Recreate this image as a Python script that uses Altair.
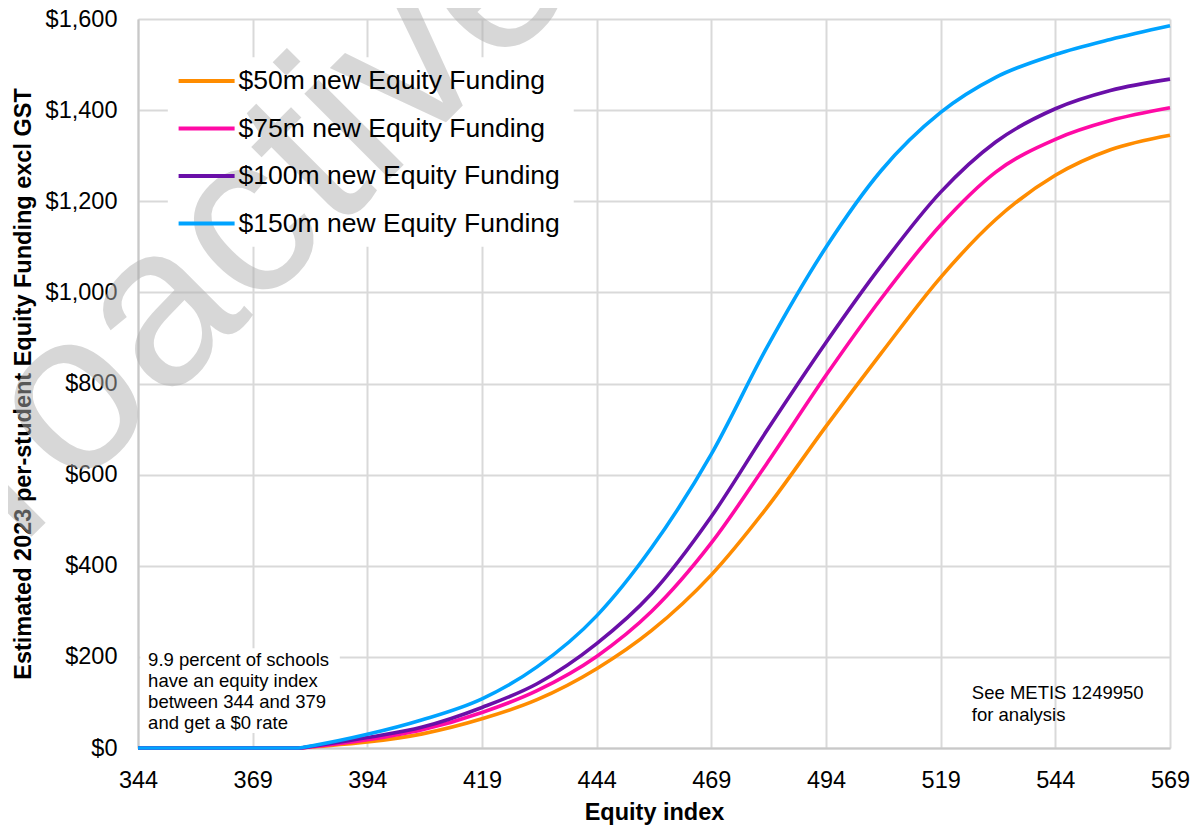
import altair as alt
import pandas as pd

# ---- data ----
equity_index = [344, 369, 379, 382, 394, 406, 419, 431, 444, 456, 469,
                481, 494, 506, 519, 531, 544, 556, 569]
funding_50m = [0, 0, 0, 2.5, 13, 31, 64, 106, 174, 258, 380,
               526, 706, 866, 1033, 1160, 1257, 1313, 1345]
funding_75m = [0, 0, 0, 3, 18, 40, 78, 126, 201, 300, 450,
               623, 818, 986, 1148, 1264, 1336, 1377, 1405]
funding_100m = [0, 0, 0, 4, 23, 46, 89, 141, 229, 339, 508,
                695, 890, 1058, 1220, 1330, 1403, 1443, 1468]
funding_150m = [0, 0, 0, 5, 30, 62, 108, 178, 290, 440, 645,
                877, 1099, 1267, 1395, 1472, 1522, 1555, 1585]

series_names = ["$50m new Equity Funding", "$75m new Equity Funding",
                "$100m new Equity Funding", "$150m new Equity Funding"]
series_colors = ["#FF8C00", "#FF0AA5", "#6A0FA8", "#00A3FF"]

x_ticks = [344, 369, 394, 419, 444, 469, 494, 519, 544, 569]
y_ticks = [0, 200, 400, 600, 800, 1000, 1200, 1400, 1600]

note_left = ["9.9 percent of schools", "have an equity index",
             "between 344 and 379", "and get a $0 rate"]
note_right = ["See METIS 1249950", "for analysis"]
watermark = "proactively released"

# ---- long table ----
rows = []
for name, vals in zip(series_names,
                      [funding_50m, funding_75m, funding_100m, funding_150m]):
    for xi, v in zip(equity_index, vals):
        rows.append({"index": xi, "value": v, "series": name})
df = pd.DataFrame(rows)
one = pd.DataFrame({"k": [0]})

FONT = "Liberation Sans"

x_scale = alt.Scale(domain=[344, 569], nice=False, zero=False)
y_scale = alt.Scale(domain=[0, 1600], nice=False)

x_enc = alt.X("index:Q", scale=x_scale,
              axis=alt.Axis(values=x_ticks, title="Equity index", format="d",
                            labelPadding=20, titlePadding=9))
y_enc = alt.Y("value:Q", scale=y_scale,
              axis=alt.Axis(values=y_ticks, format="$,.0f",
                            title="Estimated 2023 per-student Equity Funding excl GST",
                            labelPadding=21, titlePadding=10))

color_enc = alt.Color(
    "series:N",
    scale=alt.Scale(domain=series_names, range=series_colors),
    legend=alt.Legend(
        title=None, orient="none", legendX=52.6, legendY=46, padding=0,
        symbolType="M-2,0H2", symbolSize=784, symbolStrokeWidth=4,
        labelFontSize=26.5, labelFont=FONT, labelColor="black",
        labelOffset=16, rowPadding=17.5, labelLimit=500,
    ),
)

# white boxes behind legend and left note (cover gridlines)
legend_bg = alt.Chart(one).mark_rect(color="white").encode(
    x=alt.X(datum=350.5, type="quantitative", scale=x_scale),
    x2=alt.X2(datum=439.0),
    y=alt.Y(datum=1516, type="quantitative", scale=y_scale),
    y2=alt.Y2(datum=1100),
)
note_bg = alt.Chart(one).mark_rect(color="white").encode(
    x=alt.X(datum=344.5, type="quantitative", scale=x_scale),
    x2=alt.X2(datum=388.0),
    y=alt.Y(datum=219, type="quantitative", scale=y_scale),
    y2=alt.Y2(datum=33),
)

line_layers = []
for name in series_names:
    line_layers.append(
        alt.Chart(df).transform_filter(alt.datum.series == name)
        .mark_line(strokeWidth=3.6, interpolate="monotone")
        .encode(x=x_enc, y=y_enc, color=color_enc)
    )

note1 = alt.Chart(one).mark_text(
    text=note_left, align="left", baseline="top", font=FONT,
    fontSize=18.5, lineHeight=21, color="black",
).encode(
    x=alt.X(datum=346.2, type="quantitative", scale=x_scale),
    y=alt.Y(datum=213, type="quantitative", scale=y_scale),
)
note2 = alt.Chart(one).mark_text(
    text=note_right, align="left", baseline="top", font=FONT,
    fontSize=18.5, lineHeight=22, color="black",
).encode(
    x=alt.X(datum=525.8, type="quantitative", scale=x_scale),
    y=alt.Y(datum=141, type="quantitative", scale=y_scale),
)

wm = alt.Chart(one).mark_text(
    text=watermark, align="left", baseline="alphabetic", font=FONT,
    fontSize=228, angle=315, color="#b0b0b0", opacity=0.5,
).encode(
    x=alt.X(datum=298.8, type="quantitative", scale=x_scale),
    y=alt.Y(datum=242.0, type="quantitative", scale=y_scale),
)

chart = alt.layer(legend_bg, note_bg, *line_layers, note1, note2, wm).properties(
    width=1032, height=729,
    autosize=alt.AutoSizeParams(type="none"),
    padding={"left": 130, "top": 11, "right": 20, "bottom": 77},
    background="white",
).configure_axis(
    grid=True, gridColor="#d9d9d9", gridWidth=2,
    domainColor="#c8c8c8", domainWidth=2, ticks=False,
    labelFont=FONT, labelFontSize=23.5, labelColor="black",
    labelFlush=False, labelOverlap=False,
    titleFont=FONT, titleFontSize=23.5, titleFontWeight="bold",
    titleColor="black",
).configure_view(strokeWidth=0)

chart.save("out.html", embed_options={"renderer": "svg", "actions": False})
